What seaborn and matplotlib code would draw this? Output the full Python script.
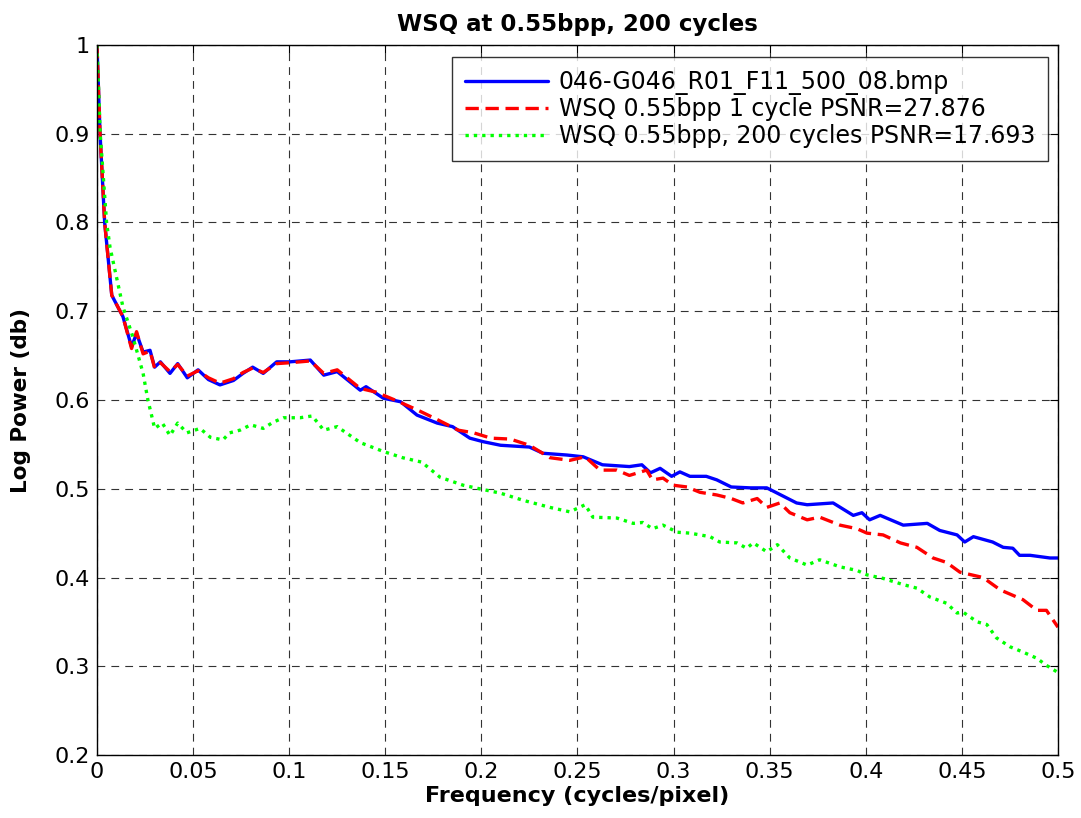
import pandas as pd
import matplotlib
matplotlib.use("Agg")
import matplotlib.pyplot as plt
import seaborn as sns

sns.set_style("white")
plt.rcParams["font.family"] = ["DejaVu Sans"]
plt.rcParams["text.color"] = "black"
plt.rcParams["axes.labelcolor"] = "black"

orig_freq = [0, 0.0016, 0.004, 0.0077, 0.0135, 0.018, 0.0206, 0.024, 0.0276, 0.030,
             0.033, 0.038, 0.042, 0.047, 0.0526, 0.058, 0.064, 0.071, 0.076, 0.081,
             0.0865, 0.0935, 0.1004, 0.111, 0.118, 0.125, 0.137, 0.140, 0.149, 0.158,
             0.1665, 0.177, 0.185, 0.194, 0.201, 0.210, 0.225, 0.232, 0.2445, 0.253,
             0.263, 0.277, 0.2835, 0.288, 0.293, 0.299, 0.3033, 0.3085, 0.317, 0.3225,
             0.330, 0.340, 0.3485, 0.354, 0.364, 0.3695, 0.383, 0.3935, 0.398, 0.402,
             0.4075, 0.4195, 0.432, 0.4385, 0.4475, 0.4515, 0.456, 0.466, 0.4715, 0.4765,
             0.480, 0.4855, 0.4958, 0.5]
orig_power = [1.0, 0.90, 0.80, 0.718, 0.694, 0.66, 0.675, 0.654, 0.656, 0.637,
              0.643, 0.630, 0.641, 0.625, 0.634, 0.623, 0.617, 0.622, 0.630, 0.637,
              0.630, 0.643, 0.643, 0.645, 0.628, 0.632, 0.611, 0.615, 0.602, 0.598,
              0.583, 0.574, 0.570, 0.557, 0.553, 0.549, 0.547, 0.540, 0.538, 0.536,
              0.527, 0.525, 0.527, 0.518, 0.523, 0.514, 0.519, 0.514, 0.514, 0.510,
              0.502, 0.501, 0.501, 0.495, 0.484, 0.482, 0.484, 0.470, 0.473, 0.465,
              0.470, 0.459, 0.461, 0.453, 0.448, 0.440, 0.446, 0.440, 0.434, 0.433,
              0.425, 0.425, 0.422, 0.422]

one_freq = [0, 0.0016, 0.004, 0.0077, 0.0135, 0.018, 0.0206, 0.024, 0.0276, 0.030,
            0.033, 0.038, 0.042, 0.047, 0.0526, 0.058, 0.064, 0.071, 0.076, 0.081,
            0.0865, 0.0935, 0.1004, 0.111, 0.118, 0.125, 0.137, 0.145, 0.155, 0.1665,
            0.177, 0.188, 0.196, 0.205, 0.215, 0.225, 0.2357, 0.246, 0.254, 0.2617,
            0.2705, 0.277, 0.286, 0.289, 0.2945, 0.2997, 0.307, 0.3137, 0.3225, 0.330,
            0.336, 0.3435, 0.3485, 0.3553, 0.3605, 0.3695, 0.376, 0.3866, 0.3954, 0.4006,
            0.409, 0.418, 0.4266, 0.435, 0.442, 0.449, 0.461, 0.470, 0.4818, 0.489,
            0.494, 0.5]
one_power = [1.0, 0.90, 0.80, 0.718, 0.694, 0.658, 0.677, 0.652, 0.655, 0.636,
             0.642, 0.632, 0.640, 0.627, 0.633, 0.625, 0.619, 0.624, 0.631, 0.636,
             0.631, 0.641, 0.642, 0.644, 0.630, 0.634, 0.613, 0.609, 0.600, 0.589,
             0.578, 0.566, 0.563, 0.557, 0.556, 0.549, 0.535, 0.532, 0.536, 0.521,
             0.521, 0.515, 0.521, 0.510, 0.512, 0.504, 0.502, 0.496, 0.493, 0.489,
             0.484, 0.489, 0.479, 0.484, 0.473, 0.465, 0.468, 0.459, 0.455, 0.450,
             0.448, 0.439, 0.434, 0.422, 0.417, 0.406, 0.400, 0.386, 0.375, 0.363,
             0.363, 0.344]

many_freq = [0, 0.0017, 0.005, 0.0068, 0.0135, 0.0187, 0.024, 0.0265, 0.0286, 0.030,
             0.034, 0.038, 0.042, 0.0468, 0.0536, 0.059, 0.0655, 0.069, 0.0744, 0.080,
             0.0865, 0.0917, 0.097, 0.1056, 0.112, 0.118, 0.125, 0.137, 0.149, 0.159,
             0.169, 0.1785, 0.1905, 0.199, 0.210, 0.2217, 0.2357, 0.246, 0.254, 0.258,
             0.2705, 0.279, 0.284, 0.289, 0.2945, 0.302, 0.3085, 0.319, 0.324, 0.333,
             0.338, 0.3415, 0.3485, 0.354, 0.3605, 0.3695, 0.376, 0.3866, 0.3954, 0.4006,
             0.409, 0.4195, 0.4266, 0.4334, 0.442, 0.4475, 0.4506, 0.458, 0.463, 0.468,
             0.475, 0.4818, 0.489, 0.494, 0.5]
many_power = [1.0, 0.90, 0.80, 0.772, 0.705, 0.671, 0.63, 0.600, 0.581, 0.568,
              0.574, 0.560, 0.574, 0.563, 0.568, 0.558, 0.555, 0.563, 0.566, 0.572,
              0.568, 0.575, 0.580, 0.580, 0.582, 0.566, 0.570, 0.552, 0.542, 0.535,
              0.530, 0.513, 0.504, 0.500, 0.495, 0.487, 0.479, 0.474, 0.482, 0.468,
              0.467, 0.461, 0.462, 0.455, 0.459, 0.451, 0.450, 0.446, 0.440, 0.439,
              0.433, 0.439, 0.429, 0.437, 0.422, 0.414, 0.420, 0.412, 0.408, 0.403,
              0.399, 0.392, 0.388, 0.378, 0.371, 0.360, 0.361, 0.350, 0.347, 0.332,
              0.322, 0.316, 0.309, 0.301, 0.293]

labels = ["046-G046_R01_F11_500_08.bmp",
          "WSQ 0.55bpp 1 cycle PSNR=27.876",
          "WSQ 0.55bpp, 200 cycles PSNR=17.693"]
colors = ["#0000ff", "#ff0000", "#00ff00"]
styles = ["-", (0, (4, 2)), (0, (1, 1.5))]

series = [(orig_freq, orig_power), (one_freq, one_power), (many_freq, many_power)]

fig = plt.figure(figsize=(10.81, 8.18), dpi=100)
ax = fig.add_axes([0.0897, 0.077, 0.889, 0.868])

for (fx, py), lab, col, ls in zip(series, labels, colors, styles):
    df = pd.DataFrame({"freq": fx, "power": py})
    sns.lineplot(data=df, x="freq", y="power", ax=ax, color=col, label=lab,
                 linewidth=2.4, linestyle=ls, sort=False, estimator=None)

ax.set_xlim(0, 0.5)
ax.set_ylim(0.2, 1.0)
ax.set_xticks([0, 0.05, 0.1, 0.15, 0.2, 0.25, 0.3, 0.35, 0.4, 0.45, 0.5])
ax.set_xticklabels(["0", "0.05", "0.1", "0.15", "0.2", "0.25", "0.3", "0.35",
                    "0.4", "0.45", "0.5"])
ax.set_yticks([0.2, 0.3, 0.4, 0.5, 0.6, 0.7, 0.8, 0.9, 1.0])
ax.set_yticklabels(["0.2", "0.3", "0.4", "0.5", "0.6", "0.7", "0.8", "0.9", "1"])
ax.tick_params(direction="in", length=6, width=0.8, top=True, right=True,
               labelsize=16, colors="black", pad=5)

ax.grid(True, color="#333333", linestyle=(0, (7, 5.5)), linewidth=0.8)
for sp in ax.spines.values():
    sp.set_color("black")
    sp.set_linewidth(1.0)

ax.set_title("WSQ at 0.55bpp, 200 cycles", fontsize=16.5, fontweight="bold",
             pad=10, color="black")
ax.set_xlabel("Frequency (cycles/pixel)", fontsize=16, fontweight="bold", labelpad=3)
ax.set_ylabel("Log Power (db)", fontsize=15.5, fontweight="bold", labelpad=17)

leg = ax.legend(loc="upper right", bbox_to_anchor=(0.9896, 0.983), borderaxespad=0,
                fontsize=17, frameon=True, fancybox=False, handlelength=3.5,
                labelspacing=0.1, borderpad=0.55, handletextpad=0.45)
leg.get_frame().set_edgecolor("black")
leg.get_frame().set_linewidth(1.0)
for t in leg.get_texts():
    t.set_color("black")

fig.savefig("out.png", dpi=100, facecolor="white")
